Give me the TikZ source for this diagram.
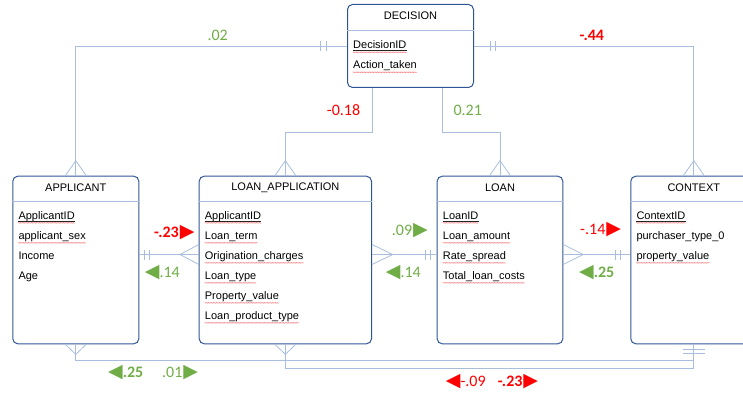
\documentclass[tikz,border=0pt]{standalone}
\usepackage{fontspec}
\setmainfont{Liberation Sans}
\newfontfamily\numfont{Carlito}
\newfontfamily\symfont{DejaVu Sans}
\usetikzlibrary{decorations.pathmorphing}

\definecolor{boxblue}{HTML}{2F5597}
\definecolor{linkblue}{HTML}{A9BEDF}
\definecolor{okgreen}{HTML}{70AD47}
\definecolor{badred}{HTML}{FF0000}

\newcommand\triR{{\symfont\fontsize{19}{19}\selectfont ▶}}
\newcommand\triL{{\symfont\fontsize{19}{19}\selectfont ◀}}

\tikzset{
  entity/.style={draw=boxblue, line width=1pt, rounded corners=5pt, inner sep=0pt, anchor=north west},
  title/.style={font=\fontsize{11}{13}\selectfont, inner sep=0pt},
  field/.style={font=\fontsize{11}{13}\selectfont, inner sep=0pt, anchor=base west},
  sep/.style={draw=linkblue, line width=0.8pt},
  link/.style={draw=linkblue, line width=0.8pt},
  squig/.style={draw=badred!75, line width=0.3pt, decorate,
    decoration={snake, amplitude=0.35pt, segment length=1.6pt}},
  keyline/.style={draw=black!85, line width=0.6pt},
  num/.style={font=\numfont\fontsize{16}{18}\selectfont, inner sep=0pt, anchor=west},
}

\begin{document}
\begin{tikzpicture}[x=1pt,y=-1pt]
\useasboundingbox (0,0) rectangle (743,393);
\clip (0,0) rectangle (743,393);

% tables
\node[entity, minimum width=126pt, minimum height=83pt] (decision) at (347,4) {};
\node[entity, minimum width=126pt, minimum height=167.6pt] (applicant) at (12.3,175.7) {};
\node[entity, minimum width=172.3pt, minimum height=167.6pt] (loanapp) at (198.7,175.7) {};
\node[entity, minimum width=125.6pt, minimum height=167.6pt] (loan) at (436.7,175.7) {};
\node[entity, minimum width=126pt, minimum height=167.6pt] (context) at (630.3,175.7) {};

\foreach \e/\t in {decision/DECISION, applicant/APPLICANT, loanapp/LOAN\_APPLICATION, loan/LOAN, context/CONTEXT} {
  \node[title] (\e-title) at ([yshift=-12pt]\e.north) {\t};
  \draw[sep] ([yshift=-26pt]\e.north west) -- ([yshift=-26pt]\e.north east);
}

% fields
\foreach \f [count=\i] in {DecisionID, Action\_taken}
  \node[field] (decision-\i) at ([xshift=6pt, yshift={-25pt-20pt*\i}]decision.north west) {\f};
\foreach \f [count=\i] in {ApplicantID, applicant\_sex, Income, Age}
  \node[field] (applicant-\i) at ([xshift=6pt, yshift={-24pt-20pt*\i}]applicant.north west) {\f};
\foreach \f [count=\i] in {ApplicantID, Loan\_term, Origination\_charges, Loan\_type, Property\_value, Loan\_product\_type}
  \node[field] (loanapp-\i) at ([xshift=6pt, yshift={-24pt-20pt*\i}]loanapp.north west) {\f};
\foreach \f [count=\i] in {LoanID, Loan\_amount, Rate\_spread, Total\_loan\_costs}
  \node[field] (loan-\i) at ([xshift=6pt, yshift={-24pt-20pt*\i}]loan.north west) {\f};
\foreach \f [count=\i] in {ContextID, purchaser\_type\_0, property\_value}
  \node[field] (context-\i) at ([xshift=6pt, yshift={-24pt-20pt*\i}]context.north west) {\f};

% key underline and spelling marks
\foreach \n in {decision-1, applicant-1, loanapp-1, loan-1, context-1}
  \draw[keyline] ([yshift=-1.6pt]\n.base west) -- ([yshift=-1.6pt]\n.base east);
\foreach \n in {decision-1, decision-2, applicant-1, applicant-2, loanapp-1, loanapp-2, loanapp-3,
                loanapp-4, loanapp-5, loanapp-6, loan-1, loan-2, loan-3, loan-4, context-1, context-3}
  \draw[squig] ([yshift=-3.2pt]\n.base west) -- ([yshift=-3.2pt]\n.base east);

% decision -- applicant
\draw[link] (decision.west) -| (applicant.north);
\draw[link] ([xshift=-21pt]decision.west) ++(0,-5) -- ++(0,10)
            ([xshift=-27pt]decision.west) ++(0,-5) -- ++(0,10);
\draw[link] ([xshift=-10.5pt]applicant.north) -- ([yshift=15pt]applicant.north) -- ([xshift=10.5pt]applicant.north);

% decision -- loan application
\draw[link] ([xshift=-38.3pt]decision.south) -- ++(0,44) -| (loanapp.north);
\draw[link] ([xshift=-10.5pt]loanapp.north) -- ([yshift=15pt]loanapp.north) -- ([xshift=10.5pt]loanapp.north);

% decision -- loan
\draw[link] ([xshift=31.7pt]decision.south) -- ++(0,44) -| (loan.north);
\draw[link] ([xshift=-10.5pt]loan.north) -- ([yshift=15pt]loan.north) -- ([xshift=10.5pt]loan.north);

% decision -- context
\draw[link] (decision.east) -| (context.north);
\draw[link] ([xshift=16pt]decision.east) ++(0,-5) -- ++(0,10)
            ([xshift=21pt]decision.east) ++(0,-5) -- ++(0,10);
\draw[link] ([xshift=-10.5pt]context.north) -- ([yshift=15pt]context.north) -- ([xshift=10.5pt]context.north);

% side links
\coordinate (applicant-r) at ([yshift=5.5pt]applicant.east);
\coordinate (loanapp-l) at ([yshift=5.5pt]loanapp.west);
\coordinate (loanapp-r) at ([yshift=5.5pt]loanapp.east);
\coordinate (loan-l) at ([yshift=5.5pt]loan.west);
\coordinate (loan-r) at ([yshift=5.5pt]loan.east);
\coordinate (context-l) at ([yshift=5.5pt]context.west);

\draw[link] (applicant-r) -- (loanapp-l);
\draw[link] ([xshift=5pt]applicant-r) ++(0,-5) -- ++(0,10)
            ([xshift=10pt]applicant-r) ++(0,-5) -- ++(0,10);
\draw[link] ([yshift=10pt]loanapp-l) -- ([xshift=-18.7pt]loanapp-l) -- ([yshift=-10pt]loanapp-l);

\draw[link] (loanapp-r) -- (loan-l);
\draw[link] ([yshift=10pt]loanapp-r) -- ([xshift=20.7pt]loanapp-r) -- ([yshift=-10pt]loanapp-r);
\draw[link] ([xshift=-6.7pt]loan-l) ++(0,-5) -- ++(0,10)
            ([xshift=-11.7pt]loan-l) ++(0,-5) -- ++(0,10);

\draw[link] (loan-r) -- (context-l);
\draw[link] ([yshift=10pt]loan-r) -- ([xshift=20pt]loan-r) -- ([yshift=-10pt]loan-r);
\draw[link] ([xshift=-9.6pt]context-l) ++(0,-5) -- ++(0,10)
            ([xshift=-14.6pt]context-l) ++(0,-5) -- ++(0,10);

% bottom links
\draw[link] (applicant.south) -- ++(0,16) -| (context.south);
\draw[link] (loanapp.south) -- ++(0,24.4) -| (context.south);
\draw[link] ([xshift=-10.5pt]applicant.south) -- ([yshift=-10pt]applicant.south) -- ([xshift=10.5pt]applicant.south);
\draw[link] ([xshift=-10.5pt]loanapp.south) -- ([yshift=-10pt]loanapp.south) -- ([xshift=10.5pt]loanapp.south);
\draw[link] ([yshift=-5pt]context.south) ++(-10.7,0) -- ++(21.4,0)
            ([yshift=-9.4pt]context.south) ++(-10.7,0) -- ++(21.4,0);

% correlations
\node[num, okgreen] (r-dec-appl) at (207.3,35) {.02};
\node[num, badred] (r-dec-ctx) at (579.3,35) {\bfseries -.44};
\node[num, badred] (r-dec-lapp) at (326.7,110) {-0.18};
\node[num, okgreen] (r-dec-loan) at (453.3,110) {0.21};
\node[num, badred] (r-appl-lapp) at (154,233) {\bfseries -.23\kern1pt\triR};
\node[num, okgreen] (r-lapp-appl) at (144.7,272.7) {\triL.14};
\node[num, okgreen] (r-lapp-loan) at (391.7,231) {.09\kern1pt\triR};
\node[num, okgreen] (r-loan-lapp) at (385.7,272.7) {\triL.14};
\node[num, badred] (r-loan-ctx) at (580,230) {-.14\kern1pt\triR};
\node[num, okgreen] (r-ctx-loan) at (579,272.7) {\bfseries\triL.25};
\node[num, okgreen] (r-ctx-appl) at (108,372.7) {\bfseries\triL.25};
\node[num, okgreen] (r-appl-ctx) at (162,372.7) {.01\kern1pt\triR};
\node[num, badred] (r-ctx-lapp) at (445.7,381.7) {\triL-.09};
\node[num, badred] (r-lapp-ctx) at (497.7,381.7) {\bfseries -.23\kern1pt\triR};
\end{tikzpicture}
\end{document}
